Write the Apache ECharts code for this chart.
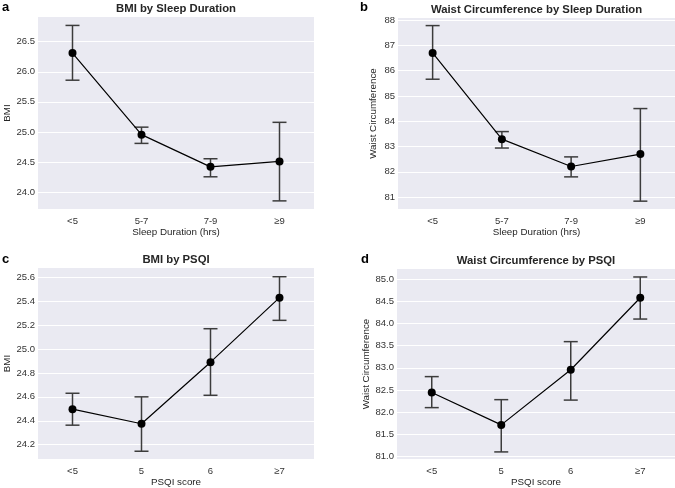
<!DOCTYPE html>
<html lang="en">
<head>
  <meta charset="UTF-8">
  <title>Sleep and obesity</title>
  <script src="https://cdn.jsdelivr.net/npm/echarts@6/dist/echarts.min.js"></script>
  <style>
    html,body{margin:0;padding:0;background:#fff;}
    #main{width:675px;height:488px;}
  </style>
</head>
<body>
  <div id="main"></div>
  <script>
    // categories
    var sleepCats = ['<5', '5-7', '7-9', '≥9'];
    var psqiCats = ['<5', '5', '6', '≥7'];

    // a: BMI by sleep duration (mean, lower, upper)
    var bmiSleepMean = [26.31, 24.955, 24.42, 24.51];
    var bmiSleepLow  = [25.86, 24.81, 24.255, 23.855];
    var bmiSleepHigh = [26.77, 25.08, 24.555, 25.16];

    // b: waist by sleep duration
    var waistSleepMean = [86.70, 83.29, 82.21, 82.70];
    var waistSleepLow  = [85.66, 82.94, 81.80, 80.84];
    var waistSleepHigh = [87.78, 83.59, 82.59, 84.50];

    // c: BMI by PSQI
    var bmiPsqiMean = [24.497, 24.375, 24.89, 25.43];
    var bmiPsqiLow  = [24.363, 24.145, 24.613, 25.24];
    var bmiPsqiHigh = [24.63, 24.60, 25.17, 25.605];

    // d: waist by PSQI
    var waistPsqiMean = [82.44, 81.71, 82.955, 84.58];
    var waistPsqiLow  = [82.10, 81.10, 82.27, 84.10];
    var waistPsqiHigh = [82.80, 82.28, 83.59, 85.05];

    var font = 'Liberation Sans, Arial, sans-serif';
    var bg = '#EAEAF2';

    // panel set-up
    var panels = [
      {letter:'a', lx:2, ly:1, title:'BMI by Sleep Duration', cats:sleepCats, xName:'Sleep Duration (hrs)', yName:'BMI',
       mean:bmiSleepMean, low:bmiSleepLow, high:bmiSleepHigh, min:23.72, max:26.91, step:0.5, dec:1,
       grid:{left:38, width:276, top:17, height:192}, nameGap:25},
      {letter:'b', lx:360, ly:1, title:'Waist Circumference by Sleep Duration', cats:sleepCats, xName:'Sleep Duration (hrs)', yName:'Waist Circumference',
       mean:waistSleepMean, low:waistSleepLow, high:waistSleepHigh, min:80.53, max:88.08, step:1, dec:0,
       grid:{left:398, width:277, top:18, height:191}, nameGap:20},
      {letter:'c', lx:2, ly:253, title:'BMI by PSQI', cats:psqiCats, xName:'PSQI score', yName:'BMI',
       mean:bmiPsqiMean, low:bmiPsqiLow, high:bmiPsqiHigh, min:24.08, max:25.678, step:0.2, dec:1,
       grid:{left:38, width:276, top:268, height:191}, nameGap:25},
      {letter:'d', lx:361, ly:253, title:'Waist Circumference by PSQI', cats:psqiCats, xName:'PSQI score', yName:'Waist Circumference',
       mean:waistPsqiMean, low:waistPsqiLow, high:waistPsqiHigh, min:80.94, max:85.23, step:0.5, dec:1,
       grid:{left:397, width:278, top:269, height:190}, nameGap:26}
    ];

    var grids = [], xAxes = [], yAxes = [], series = [], titles = [];

    panels.forEach(function(p, i){
      grids.push({left:p.grid.left, width:p.grid.width, top:p.grid.top, height:p.grid.height,
        show:true, backgroundColor:bg, borderWidth:0});
      xAxes.push({
        type:'category', gridIndex:i, data:p.cats, boundaryGap:true,
        name:p.xName, nameLocation:'middle', nameGap:18,
        nameTextStyle:{color:'#262626', fontSize:9.8, fontFamily:font},
        axisLine:{show:false}, axisTick:{show:false}, splitLine:{show:false},
        axisLabel:{color:'#333', fontSize:9.5, fontFamily:font, margin:7}
      });
      yAxes.push({
        type:'value', gridIndex:i, min:p.min, max:p.max, splitNumber:7,
        minInterval:p.step, maxInterval:p.step, scale:true,
        name:p.yName, nameLocation:'middle', nameGap:p.nameGap,
        nameTextStyle:{color:'#262626', fontSize:9.8, fontFamily:font},
        axisLine:{show:false}, axisTick:{show:false},
        splitLine:{show:true, showMinLine:false, showMaxLine:false, lineStyle:{color:'#fff', width:1}},
        axisLabel:{color:'#333', fontSize:9.5, fontFamily:font, margin:3, showMinLabel:false, showMaxLabel:false,
          formatter:(function(d){ return function(v){ return v.toFixed(d); }; })(p.dec)}
      });
      titles.push({text:p.title, left:p.grid.left + p.grid.width/2, textAlign:'center',
        top:p.grid.top - 14, padding:0,
        textStyle:{fontSize:11.3, fontWeight:'bold', color:'#262626', fontFamily:font}});
      titles.push({text:p.letter, left:p.lx, top:p.ly, padding:0,
        textStyle:{fontSize:13, fontWeight:'bold', color:'#000', fontFamily:font}});

      // error bars
      var errData = p.cats.map(function(c, k){ return [k, p.low[k], p.high[k]]; });
      series.push({
        type:'custom', xAxisIndex:i, yAxisIndex:i, data:errData, z:2,
        renderItem:function(params, api){
          var lo = api.coord([api.value(0), api.value(1)]);
          var hi = api.coord([api.value(0), api.value(2)]);
          var hw = 7;
          var st = {stroke:'#3c3c3c', lineWidth:1.5};
          return {type:'group', children:[
            {type:'line', shape:{x1:lo[0], y1:lo[1], x2:hi[0], y2:hi[1]}, style:st},
            {type:'line', shape:{x1:lo[0]-hw, y1:lo[1], x2:lo[0]+hw, y2:lo[1]}, style:st},
            {type:'line', shape:{x1:hi[0]-hw, y1:hi[1], x2:hi[0]+hw, y2:hi[1]}, style:st}
          ]};
        }
      });
      // mean line with markers
      series.push({
        type:'line', xAxisIndex:i, yAxisIndex:i, data:p.mean, z:3,
        symbol:'circle', symbolSize:8, showSymbol:true,
        lineStyle:{color:'#000', width:1.2}, itemStyle:{color:'#000'}
      });
    });

    var myChart = echarts.init(document.getElementById('main'), null, {renderer:'canvas'});
    myChart.setOption({
      animation:false,
      backgroundColor:'#fff',
      title:titles,
      grid:grids,
      xAxis:xAxes,
      yAxis:yAxes,
      series:series
    });
  </script>
</body>
</html>
